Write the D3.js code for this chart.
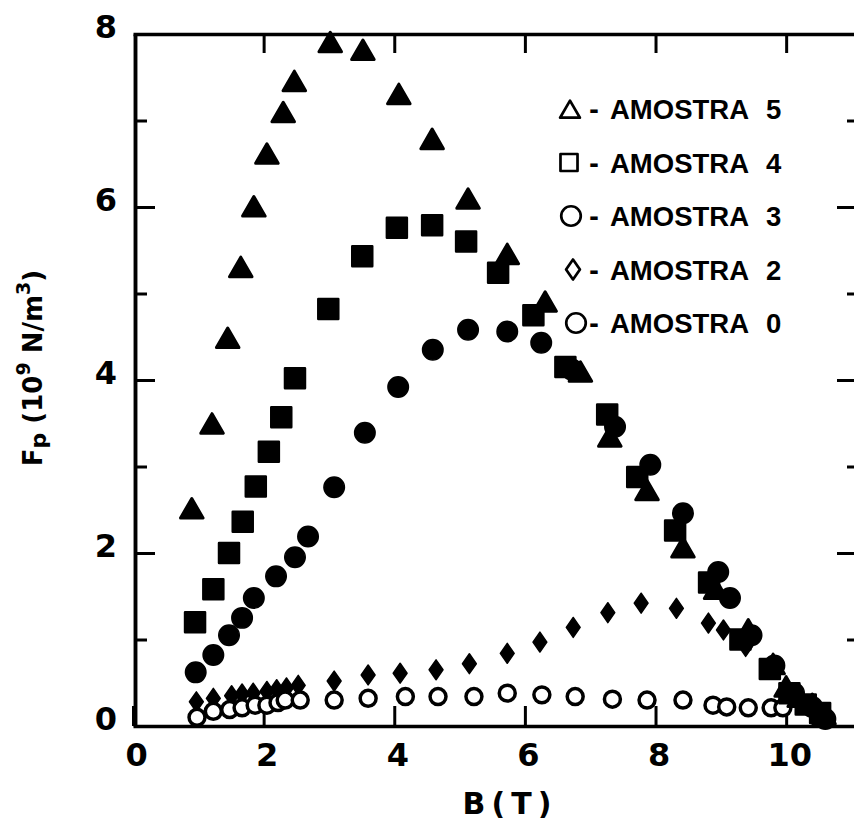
<!DOCTYPE html>
<html>
<head>
<meta charset="utf-8">
<script src="https://cdn.jsdelivr.net/npm/d3@7"></script>
<style>
  body { margin: 0; background: #fff; }
  svg text { font-family: "DejaVu Sans", sans-serif; font-weight: bold; fill: #000; }
</style>
</head>
<body>
<div id="chart"></div>
<script>
// Fp (10^9 N/m^3) vs B (T)

// amostra 5 - triangulos
const b5  = [0.90, 1.21, 1.45, 1.65, 1.85, 2.05, 2.30, 2.47, 3.02, 3.52, 4.07, 4.58, 5.13, 5.73, 6.31, 6.85, 7.30, 7.87, 8.42, 8.92, 9.42, 9.80, 10.00, 10.20, 10.40, 10.58];
const fp5 = [2.48, 3.46, 4.45, 5.27, 5.97, 6.58, 7.06, 7.42, 7.87, 7.78, 7.27, 6.75, 6.06, 5.42, 4.87, 4.06, 3.31, 2.69, 2.03, 1.55, 1.08, 0.68, 0.42, 0.30, 0.22, 0.10];

// amostra 4 - quadrados
const b4  = [0.95, 1.23, 1.47, 1.68, 1.88, 2.08, 2.27, 2.48, 2.99, 3.51, 4.04, 4.58, 5.10, 5.59, 6.13, 6.62, 7.26, 7.72, 8.30, 8.82, 9.30, 9.75, 10.05, 10.30, 10.52];
const fp4 = [1.20, 1.58, 2.00, 2.36, 2.77, 3.17, 3.57, 4.02, 4.82, 5.43, 5.76, 5.79, 5.60, 5.24, 4.75, 4.15, 3.60, 2.88, 2.26, 1.66, 1.00, 0.66, 0.38, 0.25, 0.15];

// amostra 3 - circulos cheios
const b3  = [0.96, 1.23, 1.47, 1.67, 1.85, 2.19, 2.48, 2.68, 3.08, 3.55, 4.06, 4.59, 5.13, 5.73, 6.25, 6.72, 7.38, 7.92, 8.42, 8.96, 9.14, 9.47, 9.82, 10.12, 10.40, 10.60];
const fp3 = [0.62, 0.82, 1.05, 1.25, 1.48, 1.73, 1.95, 2.19, 2.76, 3.39, 3.92, 4.35, 4.58, 4.56, 4.43, 4.12, 3.46, 3.02, 2.46, 1.78, 1.48, 1.05, 0.70, 0.38, 0.22, 0.08];

// amostra 2 - losangos
const b2  = [0.97, 1.23, 1.51, 1.67, 1.84, 2.05, 2.20, 2.35, 2.53, 3.08, 3.60, 4.09, 4.64, 5.15, 5.73, 6.23, 6.74, 7.27, 7.78, 8.32, 8.81, 9.04, 9.38];
const fp2 = [0.28, 0.32, 0.35, 0.37, 0.38, 0.40, 0.42, 0.44, 0.47, 0.52, 0.59, 0.61, 0.65, 0.72, 0.84, 0.97, 1.14, 1.31, 1.42, 1.36, 1.19, 1.11, 0.92];

// amostra 0 - circulos abertos
const b0  = [0.98, 1.23, 1.48, 1.67, 1.87, 2.05, 2.22, 2.33, 2.56, 3.08, 3.60, 4.17, 4.67, 5.22, 5.73, 6.26, 6.77, 7.34, 7.87, 8.42, 8.88, 9.09, 9.42, 9.77, 9.95];
const fp0 = [0.10, 0.17, 0.19, 0.21, 0.24, 0.24, 0.27, 0.30, 0.30, 0.30, 0.32, 0.34, 0.34, 0.34, 0.38, 0.36, 0.34, 0.31, 0.30, 0.30, 0.24, 0.22, 0.21, 0.21, 0.21];

const xTicks = [0, 2, 4, 6, 8, 10];
const yTicks = [0, 2, 4, 6, 8];
const yMinor = [1, 3, 5, 7];
const legendText = ["AMOSTRA", "AMOSTRA", "AMOSTRA", "AMOSTRA", "AMOSTRA"];
const legendNum = ["5", "4", "3", "2", "0"];

const W = 854, H = 824;
const svg = d3.select("#chart").append("svg").attr("width", W).attr("height", H);

const x = d3.scaleLinear().domain([0, 11.1]).range([133, 858]);
const y = d3.scaleLinear().domain([0, 8]).range([726, 34]);

// a wider diamond than d3.symbolDiamond
const symbolLosango = {
  draw(ctx, size) {
    const r = Math.sqrt(size) / 2;
    ctx.moveTo(0, -r * 1.15);
    ctx.lineTo(r * 0.8, 0);
    ctx.lineTo(0, r * 1.15);
    ctx.lineTo(-r * 0.8, 0);
    ctx.closePath();
  }
};

// frame + ticks (all ticks point inward)
function styleAxis(g) {
  g.selectAll("path.domain").attr("stroke", "#000").attr("stroke-width", 3.5);
  g.selectAll(".tick line").attr("stroke", "#000").attr("stroke-width", 3);
}

svg.append("g").attr("transform", "translate(0,726)")
  .call(d3.axisBottom(x).tickValues(xTicks).tickSizeInner(-20).tickSizeOuter(0).tickPadding(17))
  .call(styleAxis)
  .call(g => g.attr("font-size", 32).attr("font-family", null))
  .call(g => g.selectAll(".tick text").attr("x", 3));

svg.append("g").attr("transform", "translate(0,34)")
  .call(d3.axisTop(x).tickValues(xTicks.slice(1)).tickSizeInner(-19).tickSizeOuter(0).tickFormat(""))
  .call(styleAxis);

svg.append("g").attr("transform", "translate(135,0)")
  .call(d3.axisLeft(y).tickValues(yTicks).tickSizeInner(-20).tickSizeOuter(0).tickPadding(18))
  .call(styleAxis)
  .call(g => g.attr("font-size", 32).attr("font-family", null))
  .call(g => g.selectAll(".tick text").attr("dy", "0.12em"));

svg.append("g").attr("transform", "translate(135,0)")
  .call(d3.axisLeft(y).tickValues(yMinor).tickSizeInner(-12).tickSizeOuter(0).tickFormat(""))
  .call(styleAxis);

svg.append("g").attr("transform", "translate(858,0)")
  .call(d3.axisRight(y).tickValues(yTicks.slice(1, -1)).tickSizeInner(-21).tickSizeOuter(0).tickFormat(""))
  .call(styleAxis);

svg.append("g").attr("transform", "translate(858,0)")
  .call(d3.axisRight(y).tickValues(yMinor).tickSizeInner(-11).tickSizeOuter(0).tickFormat(""))
  .call(styleAxis);

// data marks
function drawSeries(bs, fs, type, size, fill, stroke, sw) {
  svg.append("g").selectAll("path")
    .data(d3.zip(bs, fs))
    .join("path")
    .attr("transform", d => "translate(" + x(d[0]) + "," + y(d[1]) + ")")
    .attr("d", d3.symbol(type, size)())
    .attr("fill", fill)
    .attr("stroke", stroke)
    .attr("stroke-width", sw)
    .attr("stroke-linejoin", "round");
}

drawSeries(b2, fp2, symbolLosango, 300, "#000", "#000", 1.5);
drawSeries(b0, fp0, d3.symbolCircle, 200, "#fff", "#000", 3.5);
drawSeries(b3, fp3, d3.symbolCircle, 330, "#000", "#000", 1.5);
drawSeries(b4, fp4, d3.symbolSquare, 400, "#000", "#000", 2.5);
drawSeries(b5, fp5, d3.symbolTriangle, 220, "#000", "#000", 3);

// legend (open symbols)
const legendSym = [d3.symbolTriangle, d3.symbolSquare, d3.symbolCircle, symbolLosango, d3.symbolCircle];
const legendSize = [170, 290, 300, 300, 300];
const legendSymX = [570, 569, 571, 573, 576];
const lg = svg.append("g");
legendNum.forEach((n, i) => {
  const cy = 109 + i * 53.5;
  lg.append("path")
    .attr("transform", "translate(" + legendSymX[i] + "," + (cy + (i === 0 ? 3 : 0)) + ")")
    .attr("d", d3.symbol(legendSym[i], legendSize[i])())
    .attr("fill", "none").attr("stroke", "#000").attr("stroke-width", 2.7)
    .attr("stroke-linejoin", "round");
  lg.append("text").attr("x", 589).attr("y", cy + 9).attr("font-size", 24).text("-");
  lg.append("text").attr("x", 610).attr("y", cy + 10)
    .style("font-family", "'Liberation Sans', Arial, sans-serif")
    .attr("font-size", 27.5).text(legendText[i]);
  lg.append("text").attr("x", 766).attr("y", cy + 10)
    .style("font-family", "'Liberation Sans', Arial, sans-serif")
    .attr("font-size", 27.5).text(n);
});

// axis titles
svg.append("text")
  .attr("x", 510).attr("y", 814)
  .attr("text-anchor", "middle")
  .attr("font-size", 30)
  .attr("letter-spacing", 6)
  .text("B(T)");

const yt = svg.append("text")
  .attr("transform", "translate(42,368) rotate(-90)")
  .attr("text-anchor", "middle")
  .attr("font-size", 26);
yt.append("tspan").text("F");
yt.append("tspan").attr("font-size", 22).attr("dy", 4).text("p");
yt.append("tspan").attr("dy", -4).text(" (10");
yt.append("tspan").attr("font-size", 19).attr("dy", -12).text("9");
yt.append("tspan").attr("dy", 12).text(" N/m");
yt.append("tspan").attr("font-size", 19).attr("dy", -12).text("3");
yt.append("tspan").attr("dy", 12).text(")");
</script>
</body>
</html>
